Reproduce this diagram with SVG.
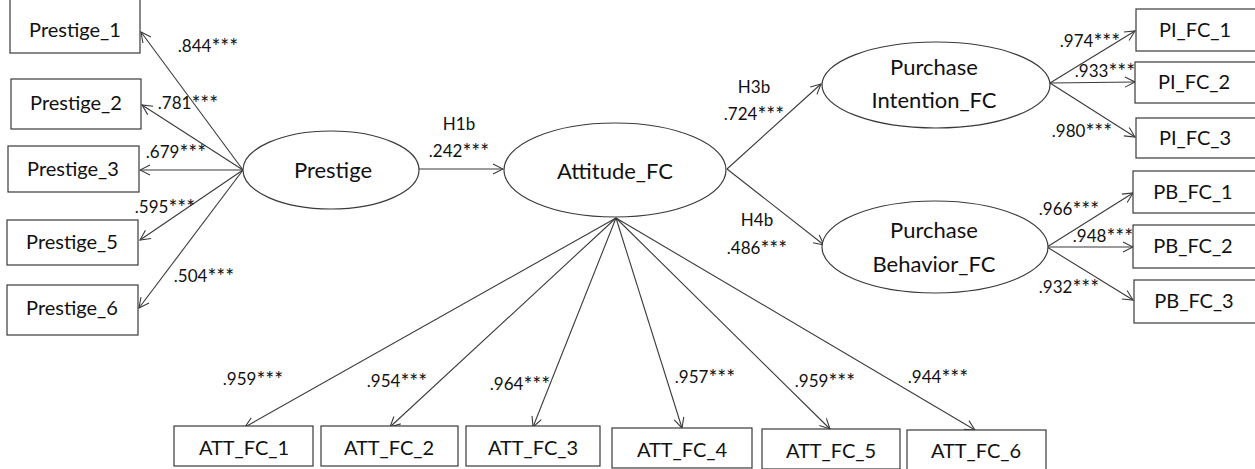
<svg xmlns="http://www.w3.org/2000/svg" width="1255" height="469" viewBox="0 0 1255 469">
  <style>
    .box { fill: #ffffff; stroke: #3a3a3a; stroke-width: 1.2; }
    .lat { fill: #ffffff; stroke: #3a3a3a; stroke-width: 1.2; }
    .edge { stroke: #3a3a3a; stroke-width: 1.1; fill: none; marker-end: url(#arr); }
    text { font-family: Lato, "Liberation Sans", sans-serif; fill: #111111; text-anchor: middle; }
    .bl { font-size: 20px; }
    .ll { font-size: 22px; }
    .cl { font-size: 17px; }
    .s { font-size: 21px; }
  </style>
  <defs>
    <marker id="arr" viewBox="0 0 12 12" refX="11" refY="6" markerWidth="12" markerHeight="12" markerUnits="userSpaceOnUse" orient="auto">
      <path d="M1,1 L11,6 L1,11" fill="none" stroke="#3a3a3a" stroke-width="1.1"/>
    </marker>
  </defs>

  <!-- structural and measurement paths -->
  <g id="connectors">
    <line class="edge" x1="243" y1="170" x2="141" y2="32"/>
    <line class="edge" x1="243" y1="170" x2="142" y2="105"/>
    <line class="edge" x1="243" y1="170" x2="140" y2="170"/>
    <line class="edge" x1="243" y1="170" x2="140" y2="240"/>
    <line class="edge" x1="243" y1="170" x2="139" y2="308"/>

    <line class="edge" x1="419" y1="169" x2="503" y2="169"/>
    <line class="edge" x1="727" y1="169" x2="821" y2="84"/>
    <line class="edge" x1="727" y1="169" x2="824" y2="245"/>

    <line class="edge" x1="616" y1="218" x2="245" y2="427"/>
    <line class="edge" x1="616" y1="218" x2="390" y2="427"/>
    <line class="edge" x1="616" y1="218" x2="533" y2="427"/>
    <line class="edge" x1="616" y1="218" x2="682" y2="428"/>
    <line class="edge" x1="616" y1="218" x2="830" y2="429"/>
    <line class="edge" x1="616" y1="218" x2="975" y2="430"/>

    <line class="edge" x1="1050" y1="83" x2="1135" y2="31"/>
    <line class="edge" x1="1050" y1="83" x2="1135" y2="82"/>
    <line class="edge" x1="1050" y1="83" x2="1135" y2="137"/>

    <line class="edge" x1="1047" y1="247" x2="1133" y2="193"/>
    <line class="edge" x1="1047" y1="247" x2="1133" y2="247"/>
    <line class="edge" x1="1047" y1="247" x2="1133" y2="300"/>
  </g>

  <!-- path coefficients -->
  <g id="coefficients">
    <text class="cl" x="208" y="52">.844<tspan class="s" dy="2">***</tspan></text>
    <text class="cl" x="188" y="109">.781<tspan class="s" dy="2">***</tspan></text>
    <text class="cl" x="176" y="158">.679<tspan class="s" dy="2">***</tspan></text>
    <text class="cl" x="165" y="213">.595<tspan class="s" dy="2">***</tspan></text>
    <text class="cl" x="204" y="282">.504<tspan class="s" dy="2">***</tspan></text>

    <text class="cl" x="459" y="130">H1b</text>
    <text class="cl" x="459" y="157">.242<tspan class="s" dy="2">***</tspan></text>
    <text class="cl" x="754" y="93">H3b</text>
    <text class="cl" x="754" y="120">.724<tspan class="s" dy="2">***</tspan></text>
    <text class="cl" x="757" y="226">H4b</text>
    <text class="cl" x="757" y="254">.486<tspan class="s" dy="2">***</tspan></text>

    <text class="cl" x="1090" y="47">.974<tspan class="s" dy="2">***</tspan></text>
    <text class="cl" x="1105" y="77">.933<tspan class="s" dy="2">***</tspan></text>
    <text class="cl" x="1082" y="137">.980<tspan class="s" dy="2">***</tspan></text>
    <text class="cl" x="1069" y="215">.966<tspan class="s" dy="2">***</tspan></text>
    <text class="cl" x="1103" y="242">.948<tspan class="s" dy="2">***</tspan></text>
    <text class="cl" x="1069" y="293">.932<tspan class="s" dy="2">***</tspan></text>

    <text class="cl" x="253" y="385">.959<tspan class="s" dy="2">***</tspan></text>
    <text class="cl" x="397" y="387">.954<tspan class="s" dy="2">***</tspan></text>
    <text class="cl" x="520" y="390">.964<tspan class="s" dy="2">***</tspan></text>
    <text class="cl" x="705" y="383">.957<tspan class="s" dy="2">***</tspan></text>
    <text class="cl" x="825" y="387">.959<tspan class="s" dy="2">***</tspan></text>
    <text class="cl" x="938" y="383">.944<tspan class="s" dy="2">***</tspan></text>
  </g>

  <!-- Prestige indicators -->
  <g id="prestige_1"><rect class="box" x="10" y="-5" width="130" height="58"/><text class="bl" x="75" y="37">Prestige_1</text></g>
  <g id="prestige_2"><rect class="box" x="11" y="79" width="130" height="50"/><text class="bl" x="76" y="110">Prestige_2</text></g>
  <g id="prestige_3"><rect class="box" x="8" y="146" width="131" height="46"/><text class="bl" x="73" y="176">Prestige_3</text></g>
  <g id="prestige_5"><rect class="box" x="7" y="220" width="131" height="45"/><text class="bl" x="72" y="249">Prestige_5</text></g>
  <g id="prestige_6"><rect class="box" x="7" y="285" width="131" height="50"/><text class="bl" x="72" y="315">Prestige_6</text></g>

  <!-- latent constructs -->
  <g id="prestige"><ellipse class="lat" cx="331" cy="170" rx="88" ry="39"/><text class="ll" x="333" y="178">Prestige</text></g>
  <g id="attitude_fc"><ellipse class="lat" cx="615" cy="170" rx="111" ry="47"/><text class="ll" x="615" y="179">Attitude_FC</text></g>
  <g id="purchase_intention_fc"><ellipse class="lat" cx="936" cy="85" rx="114" ry="43"/><text class="ll" x="934" y="75">Purchase</text><text class="ll" x="934" y="108">Intention_FC</text></g>
  <g id="purchase_behavior_fc"><ellipse class="lat" cx="935" cy="247" rx="113" ry="46"/><text class="ll" x="934" y="238">Purchase</text><text class="ll" x="934" y="272">Behavior_FC</text></g>

  <!-- Purchase intention indicators -->
  <g id="pi_fc_1"><rect class="box" x="1136" y="9" width="130" height="42"/><text class="bl" x="1195" y="37">PI_FC_1</text></g>
  <g id="pi_fc_2"><rect class="box" x="1135" y="62" width="130" height="41"/><text class="bl" x="1194" y="89">PI_FC_2</text></g>
  <g id="pi_fc_3"><rect class="box" x="1136" y="118" width="130" height="40"/><text class="bl" x="1195" y="145">PI_FC_3</text></g>

  <!-- Purchase behavior indicators -->
  <g id="pb_fc_1"><rect class="box" x="1133" y="171" width="130" height="42"/><text class="bl" x="1193" y="199">PB_FC_1</text></g>
  <g id="pb_fc_2"><rect class="box" x="1133" y="225" width="130" height="43"/><text class="bl" x="1193" y="253">PB_FC_2</text></g>
  <g id="pb_fc_3"><rect class="box" x="1134" y="280" width="130" height="43"/><text class="bl" x="1194" y="308">PB_FC_3</text></g>

  <!-- Attitude indicators -->
  <g id="att_fc_1"><rect class="box" x="174" y="426" width="139" height="40"/><text class="bl" x="244" y="455">ATT_FC_1</text></g>
  <g id="att_fc_2"><rect class="box" x="321" y="426" width="137" height="40"/><text class="bl" x="389" y="455">ATT_FC_2</text></g>
  <g id="att_fc_3"><rect class="box" x="466" y="426" width="134" height="40"/><text class="bl" x="533" y="455">ATT_FC_3</text></g>
  <g id="att_fc_4"><rect class="box" x="612" y="428" width="140" height="40"/><text class="bl" x="682" y="457">ATT_FC_4</text></g>
  <g id="att_fc_5"><rect class="box" x="762" y="429" width="138" height="40"/><text class="bl" x="831" y="458">ATT_FC_5</text></g>
  <g id="att_fc_6"><rect class="box" x="907" y="430" width="139" height="40"/><text class="bl" x="976" y="458">ATT_FC_6</text></g>
</svg>
